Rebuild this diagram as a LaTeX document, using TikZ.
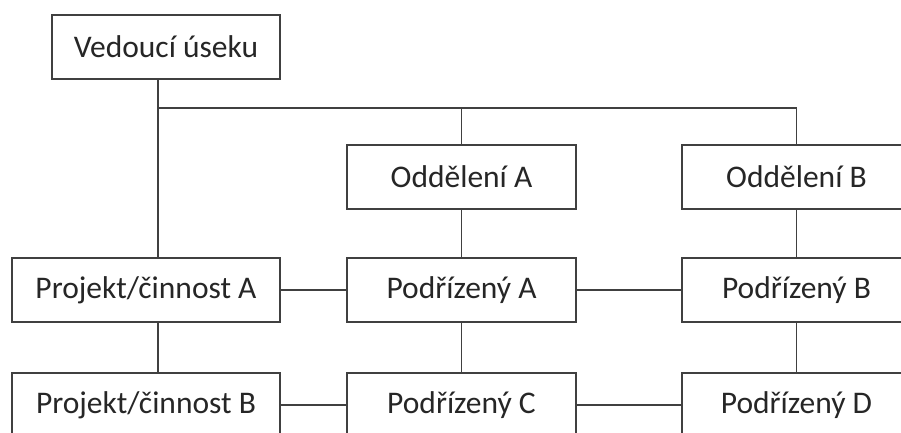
\documentclass[tikz,border=0pt]{standalone}
\usepackage{fontspec}
\setmainfont{Carlito}
\begin{document}
\begin{tikzpicture}[x=1pt,y=-1pt,
  unit/.style={draw=linegray,line width=1.4pt,fill=white,minimum width=229pt,minimum height=64pt,
    inner sep=0pt,font=\fontsize{31.5}{36}\selectfont,text=black!85},
  link/.style={draw=linegray,line width=1.4pt}]
\definecolor{linegray}{HTML}{404040}
\useasboundingbox (0,0) rectangle (901,432);
\clip (0,0) rectangle (901,432);
\fill[white] (0,0) rectangle (901,432);

% boxes
\node[unit,minimum width=228pt] (head) at (166,47) {Vedoucí úseku};
\node[unit] (oa) at (461.5,177) {Oddělení A};
\node[unit] (ob) at (796.5,177) {Oddělení B};
\node[unit,minimum width=268pt] (pa) at (146,290) {Projekt/činnost A};
\node[unit] (sa) at (461.5,290) {Podřízený A};
\node[unit] (sb) at (796.5,290) {Podřízený B};
\node[unit,minimum width=268pt] (pb) at (146,405) {Projekt/činnost B};
\node[unit] (sc) at (461.5,405) {Podřízený C};
\node[unit] (sd) at (796.5,405) {Podřízený D};

% branch line from the head
\coordinate (branch) at (158,108);
\draw[link] (head.south -| branch) -- (pa.north -| branch);
\draw[link] (branch) -- (branch -| ob.north) -- (ob.north);
\draw[link] (branch -| oa.north) -- (oa.north);

% vertical links
\draw[link] (oa) -- (sa);
\draw[link] (ob) -- (sb);
\draw[link] (sa) -- (sc);
\draw[link] (sb) -- (sd);
\draw[link] (pa.south -| branch) -- (pb.north -| branch);

% horizontal links
\draw[link] (pa) -- (sa);
\draw[link] (sa) -- (sb);
\draw[link] (pb) -- (sc);
\draw[link] (sc) -- (sd);
\end{tikzpicture}
\end{document}
